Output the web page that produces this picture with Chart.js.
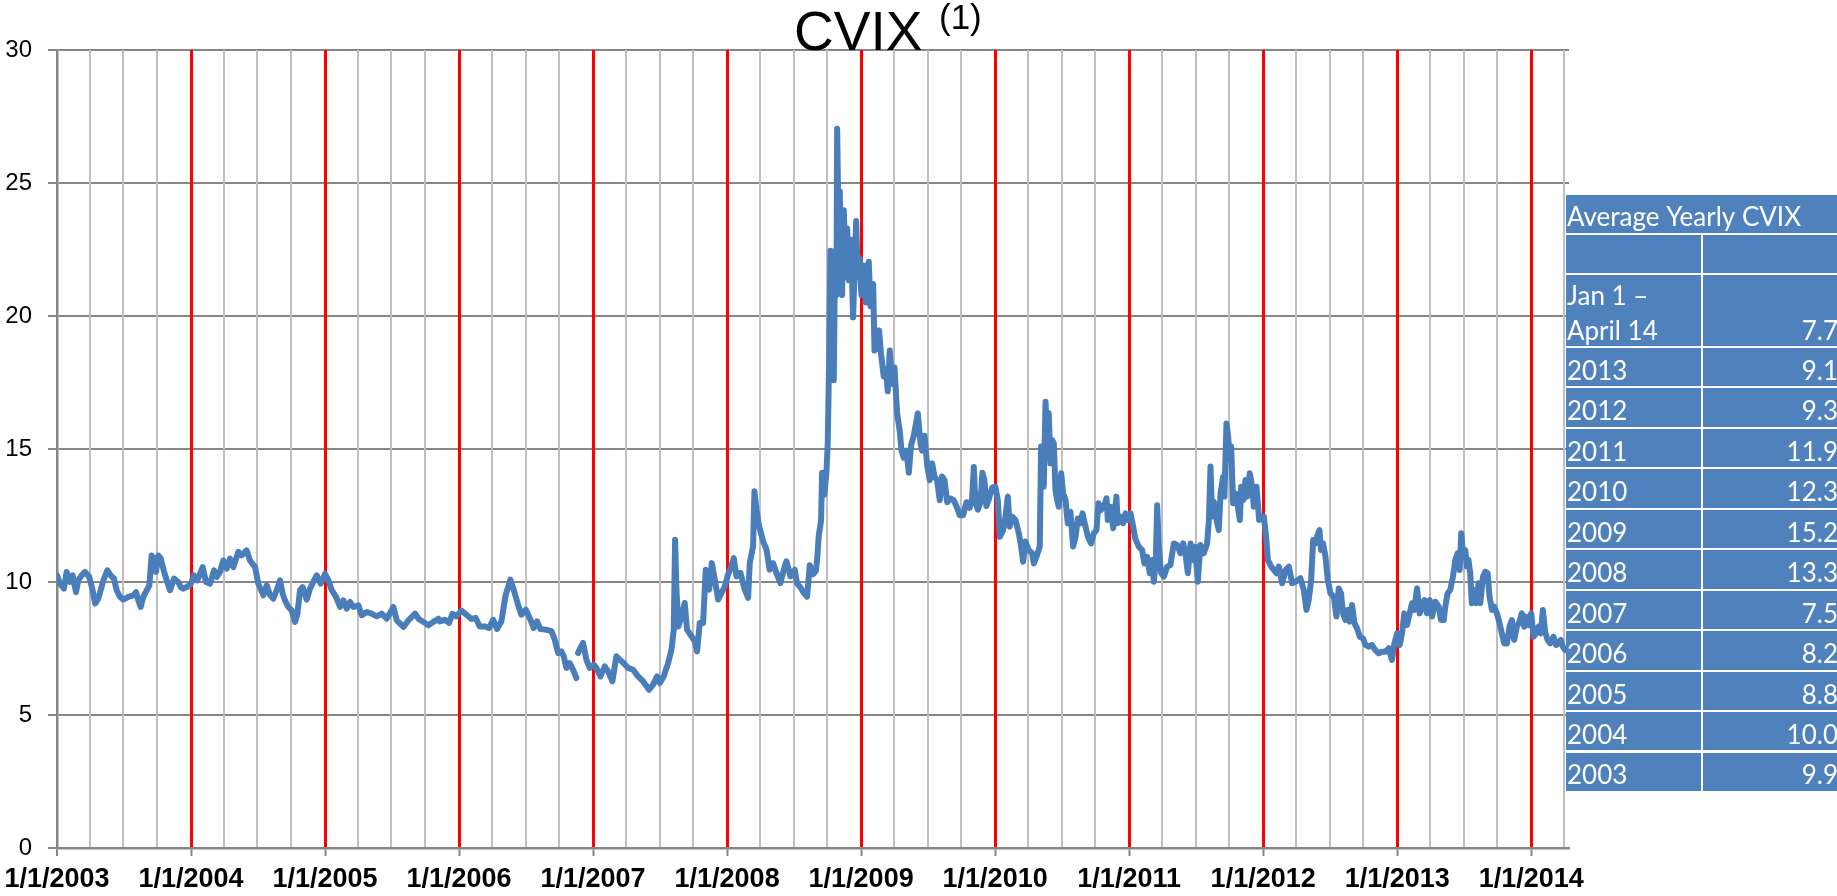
<!DOCTYPE html>
<html><head><meta charset="utf-8">
<style>html,body{margin:0;padding:0;background:#fff;overflow:hidden}canvas{display:block}</style>
<script src="https://cdn.jsdelivr.net/npm/chart.js@4.4.1/dist/chart.umd.min.js"></script>
</head><body>
<canvas id="c" width="1837" height="896"></canvas>
<script>
// ---- data: decimal year of each reading, CVIX value ----
const dates = [
 2003.000,2003.022,2003.052,2003.072,2003.097,2003.117,2003.142,2003.159,2003.184,2003.209,2003.241,2003.266,2003.284,2003.308,2003.326,2003.346,2003.376,2003.400,2003.425,2003.445,2003.470,2003.495,2003.532,2003.570,2003.590,2003.607,2003.624,2003.644,2003.669,2003.689,2003.706,2003.724,2003.739,2003.756,2003.774,2003.799,2003.823,2003.843,2003.873,2003.905,2003.923,2003.943,2003.968,
 2004.000,2004.022,2004.047,2004.087,2004.112,2004.142,2004.172,2004.192,2004.216,2004.241,2004.266,2004.291,2004.316,2004.353,2004.378,2004.415,2004.440,2004.478,2004.502,2004.540,2004.565,2004.590,2004.614,2004.639,2004.664,2004.684,2004.701,2004.726,2004.751,2004.776,2004.794,2004.813,2004.833,2004.863,2004.888,2004.918,2004.938,2004.968,
 2005.000,2005.025,2005.050,2005.082,2005.112,2005.137,2005.162,2005.187,2005.211,2005.249,2005.274,2005.311,2005.348,2005.386,2005.423,2005.460,2005.510,2005.535,2005.585,2005.622,2005.672,2005.697,2005.734,2005.771,2005.808,2005.846,2005.856,2005.893,2005.925,2005.950,2005.980,
 2006.017,2006.055,2006.092,2006.124,2006.154,2006.192,2006.224,2006.254,2006.284,2006.316,2006.348,2006.383,2006.408,2006.440,2006.465,2006.498,2006.527,2006.557,2006.582,2006.607,2006.647,2006.689,2006.714,2006.739,2006.764,2006.781,2006.801,2006.826,2006.851,2006.876,2006.882,2006.888,2006.900,2006.925,2006.950,2006.975,
 2007.005,2007.025,2007.055,2007.087,2007.112,2007.144,2007.174,2007.199,2007.229,2007.261,2007.299,2007.336,2007.373,2007.418,2007.448,2007.478,2007.498,2007.527,2007.560,2007.585,2007.602,2007.612,2007.622,2007.637,2007.659,2007.684,2007.701,2007.734,2007.759,2007.776,2007.796,2007.821,2007.841,2007.866,2007.886,2007.908,2007.933,2007.958,2007.983,
 2008.007,2008.032,2008.050,2008.070,2008.100,2008.132,2008.157,2008.169,2008.194,2008.204,2008.219,2008.239,2008.269,2008.294,2008.318,2008.343,2008.368,2008.398,2008.423,2008.443,2008.473,2008.505,2008.522,2008.547,2008.572,2008.597,2008.617,2008.642,2008.662,2008.672,2008.684,2008.701,2008.709,2008.726,2008.741,2008.751,2008.761,2008.771,2008.784,2008.796,2008.806,2008.816,2008.821,2008.831,2008.841,2008.851,2008.858,2008.871,2008.886,2008.896,2008.910,2008.925,2008.940,2008.950,2008.963,2008.975,2008.988,
 2009.002,2009.020,2009.035,2009.057,2009.070,2009.090,2009.100,2009.119,2009.134,2009.149,2009.169,2009.184,2009.199,2009.214,2009.231,2009.249,2009.269,2009.289,2009.301,2009.318,2009.338,2009.356,2009.373,2009.393,2009.423,2009.443,2009.455,2009.473,2009.493,2009.512,2009.530,2009.547,2009.567,2009.587,2009.604,2009.622,2009.642,2009.667,2009.692,2009.716,2009.736,2009.761,2009.786,2009.811,2009.828,2009.841,2009.853,2009.871,2009.891,2009.905,2009.920,2009.935,2009.955,2009.978,
 2010.002,2010.020,2010.035,2010.060,2010.077,2010.095,2010.109,2010.127,2010.152,2010.177,2010.194,2010.209,2010.226,2010.251,2010.276,2010.289,2010.313,2010.333,2010.343,2010.363,2010.376,2010.388,2010.400,2010.413,2010.425,2010.438,2010.450,2010.463,2010.475,2010.493,2010.507,2010.525,2010.542,2010.562,2010.582,2010.600,2010.617,2010.637,2010.652,2010.674,2010.692,2010.716,2010.736,2010.756,2010.771,2010.791,2010.811,2010.831,2010.841,2010.861,2010.881,2010.905,2010.915,2010.935,2010.955,2010.973,2010.990,
 2011.010,2011.030,2011.045,2011.072,2011.097,2011.114,2011.134,2011.154,2011.172,2011.184,2011.199,2011.209,2011.221,2011.239,2011.259,2011.284,2011.308,2011.333,2011.358,2011.383,2011.403,2011.420,2011.438,2011.458,2011.478,2011.493,2011.512,2011.532,2011.557,2011.582,2011.595,2011.607,2011.619,2011.632,2011.652,2011.669,2011.682,2011.701,2011.711,2011.726,2011.739,2011.751,2011.761,2011.776,2011.794,2011.811,2011.826,2011.836,2011.851,2011.868,2011.881,2011.900,2011.918,2011.930,2011.950,2011.970,2011.985,
 2012.005,2012.022,2012.035,2012.060,2012.080,2012.100,2012.117,2012.142,2012.167,2012.192,2012.216,2012.241,2012.278,2012.303,2012.323,2012.340,2012.358,2012.373,2012.390,2012.402,2012.420,2012.432,2012.447,2012.465,2012.482,2012.502,2012.527,2012.547,2012.564,2012.581,2012.596,2012.614,2012.631,2012.646,2012.663,2012.681,2012.701,2012.721,2012.745,2012.763,2012.788,2012.812,2012.837,2012.862,2012.887,2012.912,2012.937,2012.961,2012.979,
 2013.000,2013.019,2013.036,2013.053,2013.073,2013.093,2013.111,2013.128,2013.148,2013.168,2013.186,2013.203,2013.223,2013.243,2013.260,2013.285,2013.310,2013.327,2013.347,2013.359,2013.376,2013.396,2013.416,2013.434,2013.451,2013.466,2013.478,2013.491,2013.508,2013.520,2013.532,2013.545,2013.557,2013.575,2013.590,2013.607,2013.620,2013.640,2013.657,2013.675,2013.689,2013.707,2013.724,2013.744,2013.764,2013.781,2013.799,2013.819,2013.838,2013.856,2013.873,2013.893,2013.913,2013.930,2013.948,2013.963,2013.980,
 2014.000,2014.018,2014.037,2014.055,2014.072,2014.087,2014.104,2014.122,2014.142,2014.166,2014.186,2014.204,2014.221,2014.236,2014.253,2014.282
];
const cvix = [
 10.25,9.94,9.75,10.38,10.0,10.25,9.62,10.06,10.25,10.38,10.19,9.69,9.19,9.37,9.69,10.06,10.44,10.25,10.13,9.69,9.44,9.34,9.44,9.50,9.62,9.31,9.06,9.44,9.69,9.87,11.0,10.81,10.38,11.0,10.88,10.38,10.0,9.69,10.13,10.0,9.81,9.75,9.81,
 9.94,10.25,10.06,10.56,10.0,9.94,10.44,10.19,10.38,10.81,10.5,10.88,10.56,11.13,11.0,11.19,10.81,10.56,9.94,9.5,9.87,9.5,9.37,9.69,10.06,9.56,9.31,9.06,8.93,8.5,8.81,9.69,9.81,9.34,9.75,10.06,10.25,9.94,
 10.31,10.06,9.69,9.44,9.06,9.31,9.0,9.25,9.06,9.12,8.75,8.87,8.81,8.71,8.81,8.62,9.06,8.56,8.31,8.56,8.81,8.62,8.5,8.37,8.5,8.62,8.52,8.58,8.46,8.80,8.71,
 8.92,8.77,8.61,8.65,8.33,8.33,8.27,8.58,8.23,8.52,9.52,10.09,9.71,9.15,8.77,8.96,8.65,8.27,8.52,8.23,8.21,8.15,7.83,7.33,7.39,7.21,6.77,6.95,6.70,6.39,null,7.33,7.46,7.71,7.08,6.77,
 6.89,6.77,6.45,6.83,6.64,6.27,7.21,7.08,6.95,6.77,6.70,6.45,6.27,5.95,6.14,6.45,6.20,6.45,6.95,7.46,8.21,11.59,9.71,8.33,8.71,9.21,8.21,7.96,7.77,7.39,8.46,8.46,10.46,9.71,10.71,10.09,9.34,9.59,9.84,
 10.28,10.59,10.90,10.21,10.34,9.71,9.40,10.71,11.34,13.41,12.72,12.09,11.53,11.22,10.46,10.71,10.34,9.96,10.46,10.78,10.21,10.46,9.94,9.80,9.59,9.45,10.63,10.29,10.42,10.84,11.75,12.30,14.11,13.28,14.11,15.22,18.28,22.45,19.95,17.59,22.45,20.79,27.04,23.57,24.68,21.34,20.79,23.98,21.48,23.29,21.34,22.87,19.95,21.48,23.57,21.48,22.18,
 20.79,21.90,20.51,22.04,20.37,21.20,18.70,18.84,19.46,18.56,17.73,18.00,17.17,18.70,17.45,18.07,16.34,15.64,14.94,14.67,14.94,14.11,15.15,15.50,16.34,15.22,14.94,15.50,14.39,13.83,14.46,13.97,13.83,13.07,13.97,13.83,13.00,13.14,13.07,12.79,12.51,12.51,13.00,12.79,13.14,14.32,13.00,12.72,13.00,14.11,13.83,12.86,13.14,13.55,
 13.58,13.08,11.70,11.95,12.46,13.21,12.08,12.46,12.33,11.83,11.33,10.76,11.52,11.20,11.08,10.70,11.02,11.33,15.09,13.58,16.78,15.46,16.34,14.46,15.34,15.21,13.46,13.08,12.83,14.09,13.33,13.08,12.21,12.64,11.33,11.70,12.39,12.21,12.58,12.08,11.70,11.45,11.83,11.95,12.96,12.71,12.83,13.15,12.33,12.83,12.02,13.21,12.21,12.46,12.21,12.58,12.33,
 12.58,12.08,11.64,11.33,11.20,10.70,10.95,10.33,10.83,10.01,10.83,12.89,11.33,10.33,10.20,10.58,10.64,11.45,11.39,11.08,11.45,11.08,10.33,11.45,10.83,11.33,10.01,11.39,11.08,11.45,12.33,14.34,12.46,13.02,12.33,11.95,13.33,13.96,13.21,15.96,15.46,14.59,15.09,12.96,13.33,12.83,12.33,13.58,13.08,13.83,13.21,14.09,13.58,12.83,13.58,12.33,12.46,
 12.46,11.70,10.83,10.58,10.45,10.33,10.58,9.95,10.45,10.58,9.95,10.01,10.14,9.70,8.95,9.32,10.08,11.58,11.45,11.70,11.95,11.20,11.45,10.95,10.08,9.57,9.45,8.70,9.76,9.57,8.82,8.57,8.95,8.51,9.14,8.45,8.26,7.94,7.88,7.63,7.57,7.63,7.44,7.32,7.38,7.38,7.51,7.07,7.69,
 8.07,7.63,8.07,8.82,8.38,8.82,9.20,8.95,9.76,8.82,9.07,9.32,8.82,9.32,8.70,9.26,9.07,8.57,8.57,9.07,9.57,9.70,10.20,10.83,11.08,10.45,11.83,11.08,11.20,10.58,10.83,10.33,9.20,9.70,9.20,9.95,9.20,10.20,10.39,10.33,9.45,8.95,9.07,8.82,8.45,8.07,7.69,7.69,8.32,8.57,7.82,8.32,8.51,8.82,8.32,8.70,8.38,
 8.82,7.94,8.07,8.32,8.07,8.95,8.13,7.82,7.69,7.94,7.63,7.69,7.82,7.57,7.44,7.50
];
const yTicks = [0, 5, 10, 15, 20, 25, 30];
const xTickLabels = ['1/1/2003','1/1/2004','1/1/2005','1/1/2006','1/1/2007','1/1/2008','1/1/2009','1/1/2010','1/1/2011','1/1/2012','1/1/2013','1/1/2014'];
const chartTitle = 'CVIX';
const titleNote = '(1)';
const tableTitle = 'Average Yearly CVIX';
const tableLabels = ['Jan 1 –\nApril 14','2013','2012','2011','2010','2009','2008','2007','2006','2005','2004','2003'];
const tableValues = ['7.7','9.1','9.3','11.9','12.3','15.2','13.3','7.5','8.2','8.8','10.0','9.9'];

// ---- chart ----
const X_MIN = 2003, X_MAX = 2014.282;
const quarterFrac = [0, 90/365, 181/365, 273/365];
const xTicks = [];
for (let y = 2003; y <= 2014; y++) for (const f of quarterFrac) { if (y + f <= X_MAX) xTicks.push(y + f); }
const isYear = v => Math.abs(v - Math.round(v)) < 1e-6;

const points = dates.map((d, i) => ({x: d, y: cvix[i]}));

const overlay = {
  id: 'overlay',
  afterDraw(chart) {
    const ctx = chart.ctx;
    ctx.save();
    ctx.fillStyle = '#000';
    ctx.textAlign = 'left';
    ctx.textBaseline = 'alphabetic';
    ctx.font = '55px "Liberation Sans", Arial, sans-serif';
    ctx.fillText(chartTitle, 794, 50);
    ctx.font = '35px "Liberation Sans", Arial, sans-serif';
    ctx.fillText(titleNote, 939, 29);

    const L = 1566, R = 1840, D = 1702;
    ctx.fillStyle = '#fff';
    ctx.fillRect(L, 193, R - L, 600);
    const cell = (x0, y0, x1, y1) => { ctx.fillStyle = '#4f81bd'; ctx.fillRect(x0, Math.round(y0), x1 - x0, Math.round(y1) - Math.round(y0)); };
    cell(L, 195, R, 233);
    cell(L, 235, D - 1, 273); cell(D + 1, 235, R, 273);
    cell(L, 275, D - 1, 346); cell(D + 1, 275, R, 346);
    for (let i = 0; i < 11; i++) { const t = 348 + i * 40.45; cell(L, t, D - 1, t + 38.4); cell(D + 1, t, R, t + 38.4); }

    ctx.fillStyle = '#fff';
    ctx.font = '26px Lato, "Open Sans", sans-serif';
    ctx.fillText(tableTitle, 1567, 225.5);
    const jan = tableLabels[0].split('\n');
    ctx.fillText(jan[0], 1567, 304.5);
    ctx.fillText(jan[1], 1567, 340);
    ctx.textAlign = 'right';
    ctx.fillText(tableValues[0], 1838, 340);
    for (let i = 1; i < tableLabels.length; i++) {
      const t = 348 + (i - 1) * 40.45;
      const b = t + 38.4 - 6.5;
      ctx.textAlign = 'left';
      ctx.fillText(tableLabels[i], 1567, b);
      ctx.textAlign = 'right';
      ctx.fillText(tableValues[i], 1838, b);
    }
    ctx.restore();
  }
};

new Chart(document.getElementById('c'), {
  type: 'line',
  data: { datasets: [{
    data: points,
    borderColor: '#4a7ebb',
    borderWidth: 6,
    pointRadius: 0,
    tension: 0,
    spanGaps: false,
    borderJoinStyle: 'round',
    borderCapStyle: 'round'
  }]},
  options: {
    responsive: false,
    animation: false,
    events: [],
    layout: { padding: { top: 50, right: 268, left: 0, bottom: 0 } },
    plugins: { legend: { display: false }, title: { display: false }, tooltip: { enabled: false } },
    scales: {
      x: {
        type: 'linear',
        min: X_MIN, max: X_MAX,
        afterFit: s => { s.height = 48; s.paddingLeft = 0; s.paddingRight = 0; },
        afterBuildTicks: s => { s.ticks = xTicks.map(v => ({value: v})); },
        grid: {
          z: -1,
          color: c => (c.tick && isYear(c.tick.value) && c.tick.value > 2003.5) ? '#ff0000' : '#bfbfbf',
          lineWidth: c => (c.tick && isYear(c.tick.value) && c.tick.value > 2003.5) ? 3 : 2,
          drawTicks: true,
          tickLength: 8,
          tickColor: c => (c.tick && isYear(c.tick.value)) ? '#868686' : 'rgba(0,0,0,0)',
          tickWidth: 2
        },
        border: { display: true, color: '#868686', width: 2.5 },
        ticks: {
          autoSkip: false, maxRotation: 0, minRotation: 0, padding: 7,
          color: '#000',
          font: { family: '"Liberation Sans", Arial, sans-serif', size: 27, weight: 'bold', lineHeight: 1.2 },
          callback: v => isYear(v) ? xTickLabels[Math.round(v) - 2003] : ''
        }
      },
      y: {
        min: 0, max: 30,
        afterFit: s => { s.width = 57; s.paddingTop = 0; s.paddingBottom = 0; },
        afterBuildTicks: s => { s.ticks = yTicks.map(v => ({value: v})); },
        grid: { z: -2, color: '#868686', lineWidth: 2, drawTicks: true, tickLength: 9, tickColor: '#868686' },
        border: { display: true, color: '#868686', width: 2.5 },
        ticks: {
          padding: 16, color: '#000',
          font: { family: '"Liberation Sans", Arial, sans-serif', size: 24 },
          callback: v => String(v)
        }
      }
    }
  },
  plugins: [overlay]
});
</script>
</body></html>
